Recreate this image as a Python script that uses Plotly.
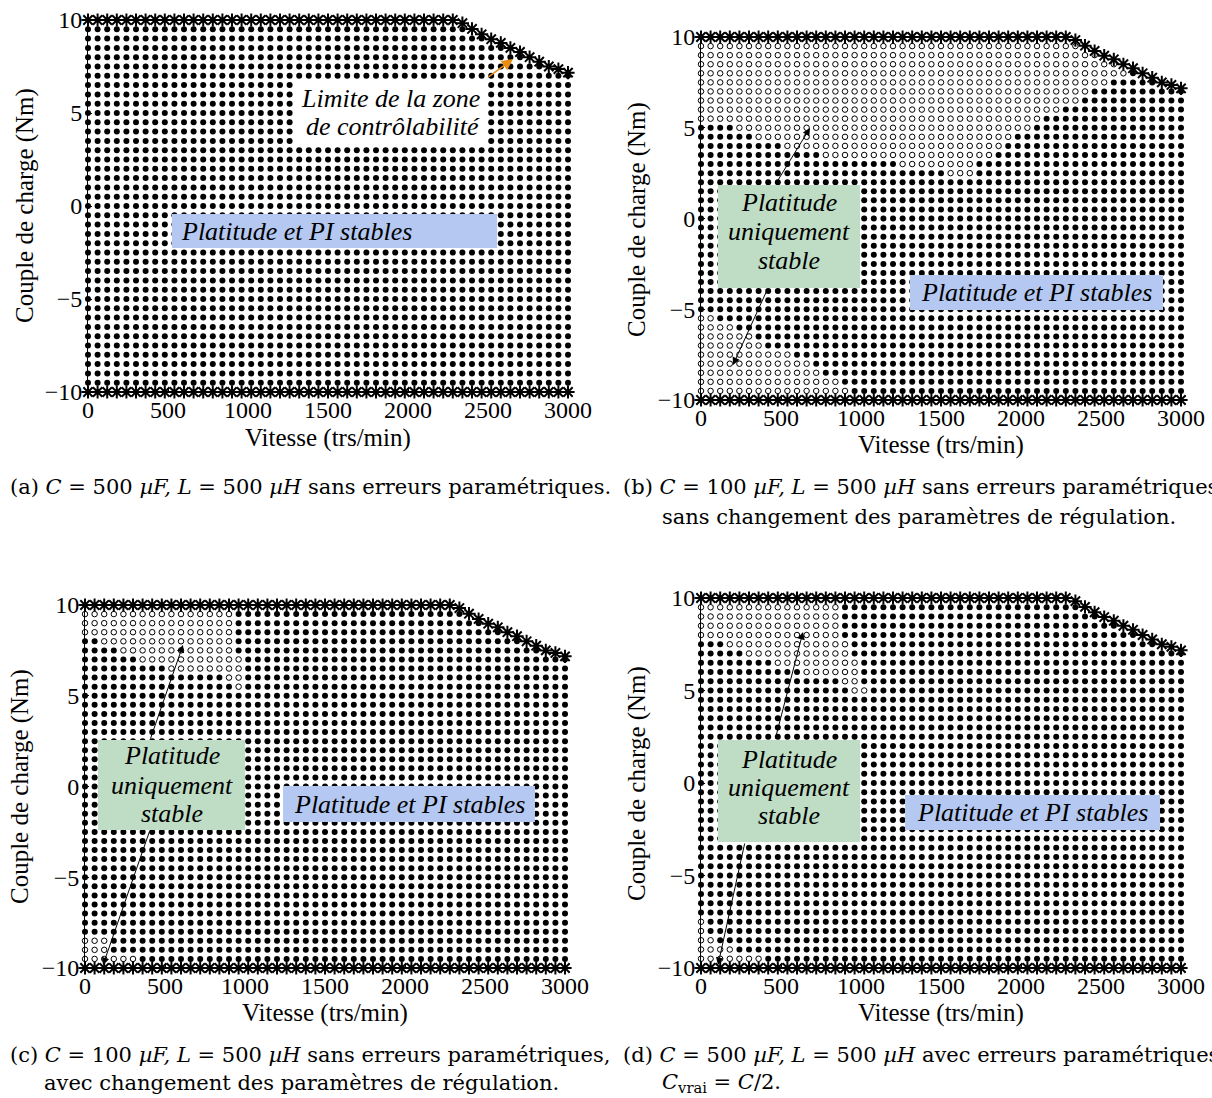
import plotly.graph_objects as go

W, H = 1212, 1098
FONT = "Liberation Serif"
CAP_FONT = "DejaVu Serif"

# ---------------- data ----------------
SPEEDS = list(range(0, 3001, 60))                 # grid of tested speeds (trs/min)
TORQUES = [k / 2 for k in range(-19, 20)]          # grid of tested load torques (Nm)
BOTTOM_LIMIT = -10.0

# controllability limit (upper boundary) beyond the corner speed
LIMIT_SPEEDS = [2280, 2340, 2400, 2460, 2520, 2580, 2640, 2700, 2760, 2820, 2880, 2940, 3000]
LIMIT_TORQUE = [10.0, 9.83, 9.52, 9.23, 8.97, 8.77, 8.5, 8.28, 8.0, 7.76, 7.5, 7.36, 7.17]
TOP_LIMIT = 10.0

# "platitude uniquement stable" zones : (torque, speed_min, speed_max)
HOLLOW_A = []
HOLLOW_B = [
    (9.5, 0, 2640), (9.0, 0, 2640), (8.5, 0, 2640), (8.0, 0, 2640),
    (7.5, 0, 2520), (7.0, 0, 2400), (6.5, 0, 2340), (6.0, 0, 2220),
    (5.5, 0, 2100), (5.0, 240, 2040), (4.5, 360, 1920), (4.0, 540, 1860),
    (3.5, 780, 1800), (3.0, 1260, 1680), (2.5, 1560, 1680),
    (-5.5, 0, 60), (-6.0, 0, 180), (-6.5, 0, 300), (-7.0, 0, 360),
    (-7.5, 0, 540), (-8.0, 0, 660), (-8.5, 0, 720), (-9.0, 0, 840), (-9.5, 0, 900),
]
HOLLOW_C = [
    (9.5, 0, 900), (9.0, 0, 900), (8.5, 0, 900), (8.0, 120, 900),
    (7.5, 240, 900), (7.0, 360, 960), (6.5, 540, 960), (6.0, 900, 960), (5.5, 960, 960),
    (-8.5, 0, 120), (-9.0, 0, 120), (-9.5, 0, 300),
]
HOLLOW_D = [
    (9.5, 0, 840), (9.0, 0, 840), (8.5, 0, 840), (8.0, 0, 840),
    (7.5, 180, 900), (7.0, 300, 900), (6.5, 480, 960), (6.0, 660, 960),
    (5.5, 900, 960), (5.0, 960, 1020),
    (-7.5, 0, 0), (-8.0, 0, 0), (-8.5, 0, 60), (-9.0, 0, 180), (-9.5, 0, 360),
]

X_TICKS = [0, 500, 1000, 1500, 2000, 2500, 3000]
Y_TICKS = [-10, -5, 0, 5, 10]

X_TITLE = "Vitesse (trs/min)"
Y_TITLE = "Couple de charge (Nm)"
BLUE_LABEL = "Platitude et PI stables"
GREEN_LABEL = ["Platitude", "uniquement", "stable"]
LIMIT_LABEL = ["Limite de la zone", "de contrôlabilité"]

CAPTIONS = [
    ["(a) <i>C</i> = 500 <i>µF, L</i> = 500 <i>µH</i> sans erreurs paramétriques."],
    ["(b) <i>C</i> = 100 <i>µF, L</i> = 500 <i>µH</i> sans erreurs paramétriques,",
     "sans changement des paramètres de régulation."],
    ["(c) <i>C</i> = 100 <i>µF, L</i> = 500 <i>µH</i> sans erreurs paramétriques,",
     "avec changement des paramètres de régulation."],
    ["(d) <i>C</i> = 500 <i>µF, L</i> = 500 <i>µH</i> avec erreurs paramétriques",
     "<i>C</i><sub>vrai</sub> = <i>C</i>/2."],
]

# ---------------- layout geometry (pixels) ----------------
PANELS = [
    dict(x0=88, x1=568, y0=20, y1=392, hollow=HOLLOW_A, xt=(328, 438), yt=(25, 206)),
    dict(x0=701, x1=1181, y0=37, y1=400, hollow=HOLLOW_B, xt=(941, 445), yt=(637, 219)),
    dict(x0=85, x1=565, y0=605, y1=968, hollow=HOLLOW_C, xt=(325, 1013), yt=(20, 787)),
    dict(x0=701, x1=1181, y0=598, y1=968, hollow=HOLLOW_D, xt=(941, 1013), yt=(637, 783)),
]


def px(x):
    return x / W


def py(y):
    return 1 - y / H


def limit(s):
    if s in LIMIT_SPEEDS:
        return LIMIT_TORQUE[LIMIT_SPEEDS.index(s)]
    return TOP_LIMIT


def is_hollow(s, t, zones):
    return any(abs(t - zt) < 1e-6 and lo <= s <= hi for zt, lo, hi in zones)


fig = go.Figure()
layout = dict(width=W, height=H, margin=dict(l=0, r=0, t=0, b=0, autoexpand=False),
              paper_bgcolor="white", plot_bgcolor="white", showlegend=False,
              font=dict(family=FONT, size=22, color="black"))
annotations = []
shapes = []


def text(t, x, y, size=25, xanchor="center", angle=0, italic=False, family=FONT):
    annotations.append(dict(text=("<i>%s</i>" % t) if italic else t, x=px(x), y=py(y),
                            xref="paper", yref="paper", xanchor=xanchor, yanchor="middle",
                            showarrow=False, textangle=angle,
                            font=dict(family=family, size=size, color="black")))


for i, p in enumerate(PANELS):
    n = "" if i == 0 else str(i + 1)
    xa, ya = "x" + n, "y" + n
    fx, fy, hx, hy, sx, sy = [], [], [], [], [], []
    for s in SPEEDS:
        lim = limit(s)
        for t in TORQUES:
            if t < lim - 0.05:
                if is_hollow(s, t, p["hollow"]):
                    hx.append(s); hy.append(t)
                else:
                    fx.append(s); fy.append(t)
        sx += [s, s]
        sy += [lim, BOTTOM_LIMIT]
    fig.add_trace(go.Scatter(x=fx, y=fy, mode="markers", xaxis=xa, yaxis=ya, cliponaxis=False,
                             marker=dict(symbol="circle", size=6, color="black", line=dict(width=0))))
    fig.add_trace(go.Scatter(x=hx, y=hy, mode="markers", xaxis=xa, yaxis=ya, cliponaxis=False,
                             marker=dict(symbol="circle-open", size=5.5, color="black",
                                         line=dict(width=1, color="black"))))
    fig.add_trace(go.Scatter(x=sx, y=sy, mode="markers", xaxis=xa, yaxis=ya, cliponaxis=False,
                             marker=dict(symbol="asterisk-open", size=11, color="black",
                                         line=dict(width=2, color="black"))))
    axis_common = dict(showgrid=False, zeroline=False, showline=True, linecolor="black",
                       linewidth=1, ticks="inside", ticklen=4, tickcolor="black", automargin=False,
                       tickfont=dict(family=FONT, size=24, color="black"))
    layout["xaxis" + n] = dict(axis_common, domain=[px(p["x0"]), px(p["x1"])], range=[0, 3000],
                               tickvals=X_TICKS, anchor=ya, ticklabelstandoff=-4)
    layout["yaxis" + n] = dict(axis_common, domain=[py(p["y1"]), py(p["y0"])], range=[-10, 10],
                               tickvals=Y_TICKS, anchor=xa)
    text(X_TITLE, p["xt"][0], p["xt"][1])
    text(Y_TITLE, p["yt"][0], p["yt"][1], angle=-90)

# ---- captions ----
cap_pos = [(8, 487, 8, 517), (621, 487, 660, 517), (8, 1055, 42, 1083), (621, 1055, 660, 1083)]
for lines, (x1, y1, x2, y2) in zip(CAPTIONS, cap_pos):
    text(lines[0], x1, y1, size=21, xanchor="left", family=CAP_FONT)
    if len(lines) > 1:
        text(lines[1], x2, y2, size=21, xanchor="left", family=CAP_FONT)

BLUE = "rgb(180,200,242)"
GREEN = "rgb(191,221,197)"


def rect(x0, x1, y0, y1, color):
    shapes.append(dict(type="rect", xref="paper", yref="paper", x0=px(x0), x1=px(x1),
                       y0=py(y1), y1=py(y0), fillcolor=color, line=dict(width=0), layer="above"))


def arrow(tail, head, color="black", width=1.0):
    annotations.append(dict(text="", x=px(head[0]), y=py(head[1]), xref="paper", yref="paper",
                            ax=tail[0] - head[0], ay=tail[1] - head[1], axref="pixel", ayref="pixel",
                            showarrow=True, arrowhead=2, arrowsize=1.5, arrowwidth=width,
                            arrowcolor=color, standoff=0))


def green_box(x0, x1, y0, y1, line_y):
    rect(x0, x1, y0, y1, GREEN)
    for t, yy in zip(GREEN_LABEL, line_y):
        text(t, (x0 + x1) / 2, yy, size=26, italic=True)


def blue_box(x0, x1, y0, y1, tx, anchor="center"):
    rect(x0, x1, y0, y1, BLUE)
    text(BLUE_LABEL, tx, (y0 + y1) / 2, size=26, italic=True, xanchor=anchor)


# panel (a)
rect(296, 487, 82, 145, "white")
text(LIMIT_LABEL[0], 482, 98, size=26, italic=True, xanchor="right")
text(LIMIT_LABEL[1], 482, 127, size=26, italic=True, xanchor="right")
blue_box(172, 497, 214, 248, 179, anchor="left")
arrow((487, 78), (513, 59), color="rgb(232,140,20)", width=1.5)
# panel (b)
green_box(718, 860, 185, 288, (202, 232, 261))
blue_box(910, 1163, 275, 310, 1036)
arrow((775, 185), (810, 128))
arrow((768, 288), (733, 365))
# panel (c)
green_box(98, 245, 740, 830, (755, 785, 813))
blue_box(283, 535, 786, 822, 409)
arrow((150, 740), (183, 645))
arrow((150, 830), (103, 965))
# panel (d)
green_box(718, 860, 740, 842, (759, 787, 815))
blue_box(905, 1160, 795, 830, 1032)
arrow((775, 740), (803, 632))
arrow((745, 842), (718, 965))

layout["annotations"] = annotations
layout["shapes"] = shapes
fig.update_layout(**layout)

fig.write_html("out.html", config={"displayModeBar": False},
               post_script="document.body.style.margin='0px';document.body.style.overflow='hidden';")
